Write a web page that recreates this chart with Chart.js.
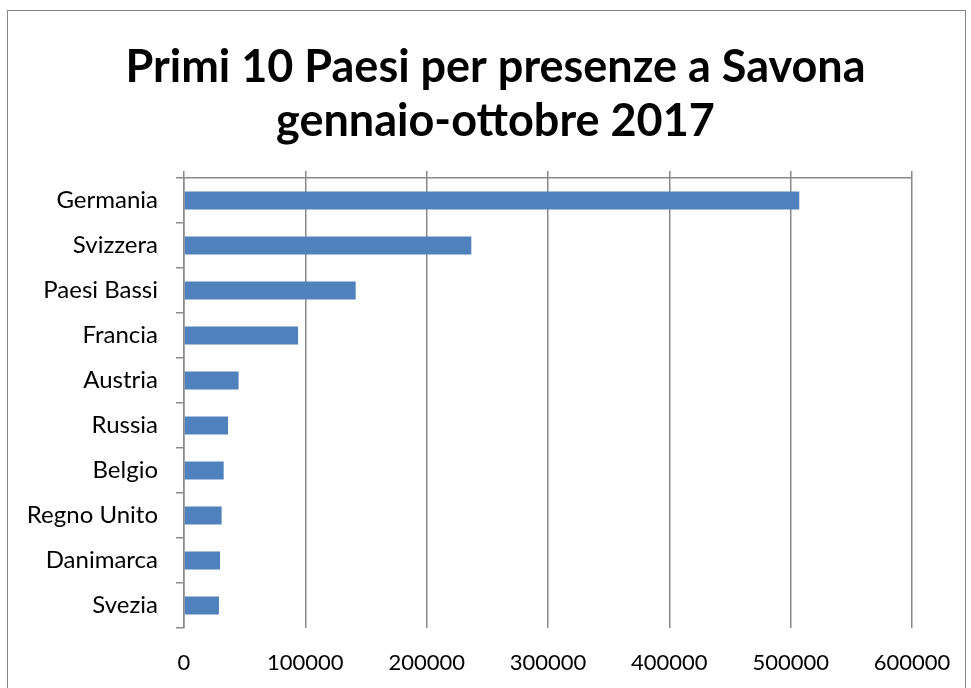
<!DOCTYPE html>
<html><head><meta charset="utf-8">
<script src="https://cdn.jsdelivr.net/npm/chart.js@4"></script>
<style>
html,body{margin:0;padding:0;background:#fff;}
#wrap{position:relative;width:971px;height:688px;overflow:hidden;}
#frame{position:absolute;left:7px;top:10px;width:959px;height:700px;border:1px solid #868686;box-sizing:border-box;z-index:1;pointer-events:none;}
canvas{position:absolute;left:0;top:0;}
</style></head>
<body><div id="wrap"><div id="frame"></div><canvas id="c" width="991" height="688"></canvas></div>
<script>
const titleLines = ["Primi 10 Paesi per presenze a Savona", "gennaio-ottobre 2017"];
const countries = ["Germania","Svizzera","Paesi Bassi","Francia","Austria","Russia","Belgio","Regno Unito","Danimarca","Svezia"];
const presenze = [507100, 236800, 141500, 94000, 45000, 36300, 32700, 31000, 29700, 28800];
const axisMin = 0, axisMax = 600000, axisStep = 100000;

const gridCol = '#8a8a8a';
new Chart(document.getElementById('c'), {
  type: 'bar',
  data: {labels: countries, datasets: [{data: presenze, backgroundColor: '#4F81BD', barPercentage: 0.4, categoryPercentage: 1}]},
  options: {
    indexAxis: 'y', responsive: false, animation: false,
    layout: {padding: {left: 0, right: 0, top: 40, bottom: 0}},
    plugins: {
      legend: {display: false}, tooltip: {enabled: false},
      title: {display: true, text: titleLines, color: '#000', font: {family: 'Lato', size: 45, weight: 'bold'}, lineHeight: 1.22, padding: {top: 0, bottom: 23}}
    },
    scales: {
      x: {min: axisMin, max: axisMax, afterFit: s => { s.height = 60; },
          ticks: {stepSize: axisStep, color: '#000', font: {family: 'Lato', size: 22}, padding: 22, maxRotation: 0, callback: v => String(v)},
          grid: {color: gridCol, lineWidth: 1.5, tickLength: 0}, border: {display: false}},
      x2: {type: 'linear', position: 'top', min: axisMin, max: axisMax, afterFit: s => { s.height = 7; },
          ticks: {display: false, stepSize: axisStep},
          grid: {drawOnChartArea: false, color: gridCol, lineWidth: 1.5, tickLength: 7}, border: {display: true, color: gridCol, width: 1.5}},
      y: {afterFit: s => { s.width = 184; },
          ticks: {color: '#000', font: {family: 'Lato', size: 24}, padding: 18},
          grid: {drawOnChartArea: false, color: gridCol, lineWidth: 1.5, tickLength: 8}, border: {display: true, color: gridCol, width: 1.5}},
      y2: {type: 'category', position: 'right', afterFit: s => { s.width = 79; },
          ticks: {display: false}, grid: {display: false}, border: {display: false}}
    }
  }
});
</script></body></html>
